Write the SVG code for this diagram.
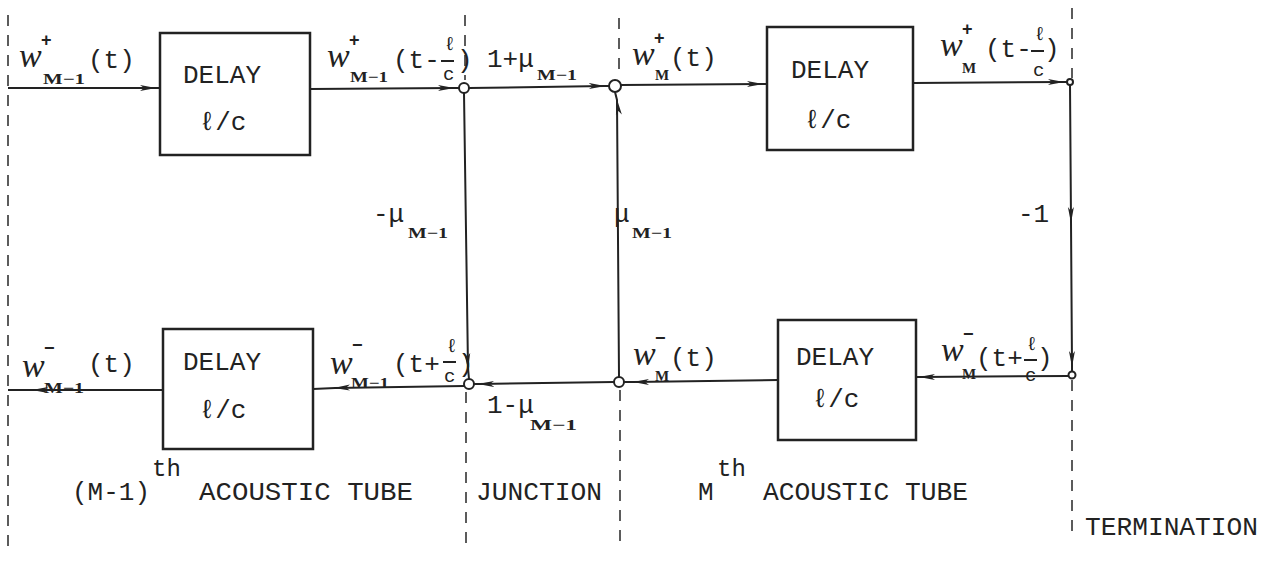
<svg xmlns="http://www.w3.org/2000/svg" width="1272" height="562" viewBox="0 0 1272 562">
<defs>
<marker id="ah" viewBox="0 0 16 8" refX="15" refY="4" markerWidth="16" markerHeight="8" markerUnits="userSpaceOnUse" orient="auto">
<path d="M0,1 L16,4 L0,7 L4,4 Z" fill="#222"/>
</marker>
<style>
.ln{fill:none;stroke:#222;stroke-width:2}
.ar{fill:none;stroke:#222;stroke-width:2;marker-mid:url(#ah)}
.box{fill:#fff;stroke:#222;stroke-width:2.5}
.dash{fill:none;stroke:#333;stroke-width:1.6;stroke-dasharray:11 9}
.nd{fill:#fff;stroke:#222;stroke-width:2}
.m{font-family:"Liberation Mono","DejaVu Sans Mono",monospace;fill:#222;font-size:26px}
.f{font-family:"Liberation Mono","DejaVu Sans Mono",monospace;fill:#222;font-size:19px}
.w{font-family:"Liberation Serif","DejaVu Serif",serif;font-style:italic;fill:#222;font-size:34px}
.s{font-family:"Liberation Serif","DejaVu Serif",serif;font-weight:bold;fill:#222;font-size:15px}
.p{font-family:"Liberation Sans","DejaVu Sans",sans-serif;font-weight:bold;fill:#222;font-size:18px}
.c{text-anchor:middle}
</style>
</defs>

<g id="boundaries">
<line class="dash" x1="8" y1="15" x2="8" y2="550"/>
<line class="dash" x1="465" y1="15" x2="465" y2="80"/>
<line class="dash" x1="466" y1="392" x2="466" y2="548"/>
<line class="dash" x1="619" y1="18" x2="619" y2="78"/>
<line class="dash" x1="620" y1="390" x2="620" y2="548"/>
<line class="dash" x1="1072" y1="8" x2="1072" y2="78"/>
<line class="dash" x1="1072" y1="380" x2="1072" y2="538"/>
</g>

<g id="connectors">
<path class="ar" d="M8,88 L155,88 L160,88"/>
<path class="ar" d="M310,89 L453,88 L459,88"/>
<path class="ar" d="M469,88 L604,86 L609,86"/>
<path class="ar" d="M621,85 L762,84 L767,84"/>
<path class="ar" d="M913,83 L1063,82 L1067,82"/>
<path class="ar" d="M1070,85 L1071,222 L1072,366 L1072,371"/>
<path class="ar" d="M1069,376 L920,377 L916,377"/>
<path class="ar" d="M778,380 L634,382 L624,382"/>
<path class="ar" d="M614,382 L479,384 L474,384"/>
<path class="ar" d="M464,386 L335,388 L313,389"/>
<path class="ar" d="M163,390 L33,390 L8,390"/>
<path class="ar" d="M464,93 L468,368 L469,379"/>
<path class="ar" d="M619,377 L617,100 L615,92"/>
</g>

<g id="n1"><circle class="nd" cx="464" cy="88" r="5"/></g>
<g id="n2"><circle class="nd" cx="615" cy="86" r="6"/></g>
<g id="n3"><circle class="nd" cx="1070" cy="82" r="3"/></g>
<g id="n4"><circle class="nd" cx="1072" cy="375" r="3.5"/></g>
<g id="n5"><circle class="nd" cx="619" cy="382" r="5"/></g>
<g id="n6"><circle class="nd" cx="469" cy="384" r="5"/></g>

<g id="delay1">
<rect class="box" x="160" y="33" width="150" height="122"/>
<text class="m c" x="222" y="83">DELAY</text>
<text class="m c" x="223" y="130">ℓ/c</text>
</g>
<g id="delay2">
<rect class="box" x="163" y="329" width="150" height="120"/>
<text class="m c" x="222" y="370">DELAY</text>
<text class="m c" x="223" y="418">ℓ/c</text>
</g>
<g id="delay3">
<rect class="box" x="767" y="27" width="146" height="123"/>
<text class="m c" x="830" y="78">DELAY</text>
<text class="m c" x="828" y="128">ℓ/c</text>
</g>
<g id="delay4">
<rect class="box" x="778" y="320" width="138" height="120"/>
<text class="m c" x="835" y="365">DELAY</text>
<text class="m c" x="836" y="407">ℓ/c</text>
</g>

<g id="labels">
<text class="w" x="19" y="67">w</text>
<text class="p" x="41" y="46">+</text>
<text class="s" x="43" y="84" textLength="42" lengthAdjust="spacingAndGlyphs">M−1</text>
<text class="m" x="88" y="68">(t)</text>

<text class="w" x="327" y="67">w</text>
<text class="p" x="349" y="46">+</text>
<text class="s" x="350" y="82" textLength="38" lengthAdjust="spacingAndGlyphs">M−1</text>
<text class="m" x="393" y="68">(t-</text>
<text class="f" x="444" y="50">ℓ</text>
<line class="ln" x1="441" y1="61" x2="454" y2="61"/>
<text class="f" x="443" y="80">c</text>
<text class="m" x="457" y="68">)</text>

<text class="m" x="487" y="67">1+μ</text>
<text class="s" x="537" y="80" textLength="40" lengthAdjust="spacingAndGlyphs">M−1</text>

<text class="w" x="632" y="65">w</text>
<text class="p" x="654" y="44">+</text>
<text class="s" x="655" y="80">M</text>
<text class="m" x="670" y="66">(t)</text>

<text class="w" x="940" y="56">w</text>
<text class="p" x="962" y="35">+</text>
<text class="s" x="962" y="73">M</text>
<text class="m" x="985" y="57">(t-</text>
<text class="f" x="1034" y="40">ℓ</text>
<line class="ln" x1="1031" y1="51" x2="1044" y2="51"/>
<text class="f" x="1033" y="76">c</text>
<text class="m" x="1044" y="57">)</text>

<text class="m" x="1018" y="222">-1</text>

<text class="m" x="373" y="222">-μ</text>
<text class="s" x="408" y="238" textLength="40" lengthAdjust="spacingAndGlyphs">M−1</text>

<text class="m" x="614" y="222">μ</text>
<text class="s" x="632" y="238" textLength="40" lengthAdjust="spacingAndGlyphs">M−1</text>

<text class="w" x="22" y="377">w</text>
<text class="p" x="44" y="354">−</text>
<text class="s" x="44" y="393" textLength="40" lengthAdjust="spacingAndGlyphs">M−1</text>
<text class="m" x="88" y="372">(t)</text>

<text class="w" x="330" y="374">w</text>
<text class="p" x="352" y="351">−</text>
<text class="s" x="351" y="388" textLength="38" lengthAdjust="spacingAndGlyphs">M−1</text>
<text class="m" x="393" y="372">(t+</text>
<text class="f" x="446" y="352">ℓ</text>
<line class="ln" x1="443" y1="362" x2="456" y2="362"/>
<text class="f" x="444" y="382">c</text>
<text class="m" x="458" y="372">)</text>

<text class="m" x="487" y="413">1-μ</text>
<text class="s" x="530" y="430" textLength="47" lengthAdjust="spacingAndGlyphs">M−1</text>

<text class="w" x="633" y="365">w</text>
<text class="p" x="655" y="344">−</text>
<text class="s" x="655" y="381">M</text>
<text class="m" x="670" y="366">(t)</text>

<text class="w" x="941" y="361">w</text>
<text class="p" x="963" y="340">−</text>
<text class="s" x="962" y="379">M</text>
<text class="m" x="976" y="366">(t+</text>
<text class="f" x="1026" y="350">ℓ</text>
<line class="ln" x1="1024" y1="360" x2="1037" y2="360"/>
<text class="f" x="1025" y="381">c</text>
<text class="m" x="1037" y="366">)</text>

<text class="m" x="72" y="500">(M-1)</text>
<text class="m" x="152" y="476" style="font-size:24px">th</text>
<text class="m" x="199" y="500" textLength="214" lengthAdjust="spacingAndGlyphs">ACOUSTIC TUBE</text>
<text class="m" x="476" y="500" textLength="126" lengthAdjust="spacingAndGlyphs">JUNCTION</text>
<text class="m" x="698" y="500">M</text>
<text class="m" x="717" y="476" style="font-size:24px">th</text>
<text class="m" x="763" y="500" textLength="205" lengthAdjust="spacingAndGlyphs">ACOUSTIC TUBE</text>
<text class="m" x="1085" y="535" textLength="173" lengthAdjust="spacingAndGlyphs">TERMINATION</text>
</g>
</svg>
